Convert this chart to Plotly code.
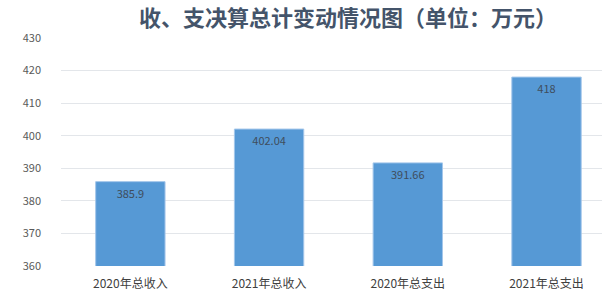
import plotly.graph_objects as go

categories = ["2020年总收入", "2021年总收入", "2020年总支出", "2021年总支出"]
values = [385.9, 402.04, 391.66, 418]
labels = ["385.9", "402.04", "391.66", "418"]
y_ticks = [360, 370, 380, 390, 400, 410, 420, 430]

FONT = "Noto Sans CJK SC"

fig = go.Figure(go.Bar(
    x=categories, y=values, text=labels,
    textposition="inside", insidetextanchor="end",
    textfont=dict(family=FONT, size=11, color="#3f4d5c"),
    marker=dict(color="#5699d5", line=dict(color="#a3c6ea", width=1)),
    width=0.5,
))

fig.update_layout(
    width=602, height=303,
    margin=dict(l=61, r=0, t=38, b=37),
    paper_bgcolor="white", plot_bgcolor="white",
    showlegend=False,
    title=dict(text="<b>收、支决算总计变动情况图（单位：万元）</b>",
               x=0.578, xanchor="center", y=0.94, yanchor="middle",
               font=dict(family=FONT, size=22, color="#44546a")),
    xaxis=dict(range=[-0.5, 3.4], showgrid=False, showline=False, ticks="",
               ticklabelstandoff=9,
               tickfont=dict(family=FONT, size=12, color="#404040")),
    yaxis=dict(range=[360, 430], tickvals=y_ticks, showgrid=True,
               gridcolor="#e3e6ea", gridwidth=1, zeroline=False, showline=False,
               ticks="", ticklabelstandoff=19,
               tickfont=dict(family=FONT, size=11, color="#595959")),
)

fig.write_html("out.html")
